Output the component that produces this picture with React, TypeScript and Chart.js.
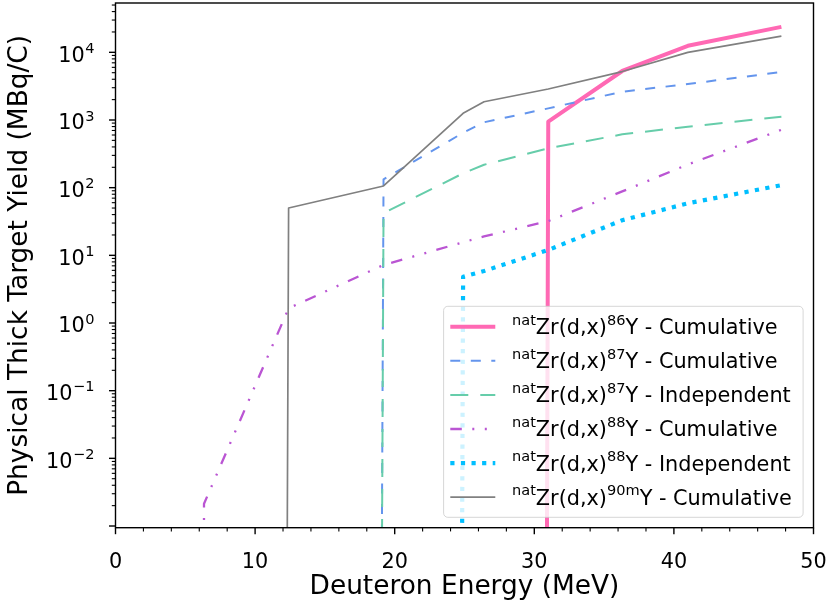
import React, { useEffect, useRef } from 'react';
import { Chart, registerables } from 'chart.js';

Chart.register(...registerables);

// ---------- data ----------
const energies = [5.0, 6.34, 12.4, 19.2, 24.9, 26.4, 31.0, 36.3, 41.0, 47.7];
const y86Cumulative = [0, 0, 0, 0, 0, 0, 944, 5300, 12500, 23800];
const y87Cumulative = [0, 0, 0, 133, 648, 925, 1486, 2618, 3404, 5120];
const y87Independent = [0, 0, 0, 42, 163, 218, 381, 614, 796, 1119];
const y88Cumulative = [0, 0.00213, 1.65, 7.2, 15.6, 19, 32, 88, 220, 716];
const y88Independent = [0, 0, 0, 0, 4.83, 5.86, 12, 33, 58.7, 109];
const y90mCumulative = [0, 0, 50, 106, 1256, 1862, 2870, 5200, 10000, 17400];

const seriesLabels = [
  '^{nat}Zr(d,x)^{86}Y - Cumulative',
  '^{nat}Zr(d,x)^{87}Y - Cumulative',
  '^{nat}Zr(d,x)^{87}Y - Independent',
  '^{nat}Zr(d,x)^{88}Y - Cumulative',
  '^{nat}Zr(d,x)^{88}Y - Independent',
  '^{nat}Zr(d,x)^{90m}Y - Cumulative',
];
const xTickLabels = [0, 10, 20, 30, 40, 50];
const yTickExponents = [-2, -1, 0, 1, 2, 3, 4];
const xTitle = 'Deuteron Energy (MeV)';
const yTitle = 'Physical Thick Target Yield (MBq/C)';

// ---------- styles ----------
const FONT = "'DejaVu Sans', sans-serif";
const TICK_FS = 20.8;
const LABEL_FS = 26.4;
const seriesStyles = [
  { color: '#ff69b4', width: 4, dash: [] as number[] },
  { color: '#6495ed', width: 2, dash: [10, 10.5] },
  { color: '#66cdaa', width: 2, dash: [18, 12] },
  { color: '#ba55d3', width: 2.3, dash: [11.5, 10.5, 2, 10.5, 2, 10.5] },
  { color: '#00bfff', width: 4.2, dash: [4.2, 6.4] },
  { color: '#808080', width: 1.7, dash: [] as number[] },
];
const seriesValues = [y86Cumulative, y87Cumulative, y87Independent, y88Cumulative, y88Independent, y90mCumulative];

function parseLabel(s: string) {
  const parts: { text: string; sup: boolean }[] = [];
  const re = /\^\{([^}]*)\}/g;
  let last = 0;
  let m: RegExpExecArray | null;
  while ((m = re.exec(s))) {
    if (m.index > last) parts.push({ text: s.slice(last, m.index), sup: false });
    parts.push({ text: m[1], sup: true });
    last = m.index + m[0].length;
  }
  if (last < s.length) parts.push({ text: s.slice(last), sup: false });
  return parts;
}

const overlayPlugin = {
  id: 'mplOverlay',
  afterDraw(chart: any) {
    const { ctx, chartArea: a, scales } = chart;
    const xs = scales.x;
    const ys = scales.y;
    ctx.save();
    ctx.strokeStyle = '#000';
    ctx.fillStyle = '#000';

    // x ticks
    xs.ticks.forEach((t: any) => {
      const px = xs.getPixelForValue(t.value);
      const major = xTickLabels.includes(t.value);
      ctx.lineWidth = major ? 1.4 : 1.1;
      ctx.beginPath();
      ctx.moveTo(px, a.bottom);
      ctx.lineTo(px, a.bottom + (major ? 6.5 : 3.7));
      ctx.stroke();
    });

    // y ticks (log decades)
    const d0 = Math.floor(Math.log10(ys.min));
    const d1 = Math.ceil(Math.log10(ys.max));
    for (let d = d0; d <= d1; d++) {
      for (let k = 1; k <= 9; k++) {
        const v = k * Math.pow(10, d);
        if (v < ys.min || v > ys.max) continue;
        const py = ys.getPixelForValue(v);
        const major = k === 1;
        ctx.lineWidth = major ? 1.4 : 1.1;
        ctx.beginPath();
        ctx.moveTo(a.left, py);
        ctx.lineTo(a.left - (major ? 6.5 : 3.7), py);
        ctx.stroke();
      }
    }

    // y tick labels 10^n
    const supFs = TICK_FS * 0.7;
    yTickExponents.forEach((e) => {
      const py = ys.getPixelForValue(Math.pow(10, e));
      const base = py + 9.3;
      const expTxt = e < 0 ? '\u2212' + Math.abs(e) : String(e);
      ctx.textBaseline = 'alphabetic';
      ctx.textAlign = 'right';
      ctx.font = `${supFs}px ${FONT}`;
      const right = a.left - 21;
      ctx.fillText(expTxt, right, base - 8.6);
      const ew = ctx.measureText(expTxt).width;
      ctx.font = `${TICK_FS}px ${FONT}`;
      ctx.fillText('10', right - ew - 0.5, base);
    });

    // frame
    ctx.lineWidth = 1.4;
    ctx.strokeRect(a.left, a.top, a.right - a.left, a.bottom - a.top);

    // legend (lower right)
    const pad = 10.4;
    const bw = 359.5;
    const bh = 211;
    const bx = a.right - pad - bw;
    const by = a.bottom - pad - bh;
    const r = 4.2;
    ctx.beginPath();
    ctx.moveTo(bx + r, by);
    ctx.lineTo(bx + bw - r, by);
    ctx.arcTo(bx + bw, by, bx + bw, by + r, r);
    ctx.lineTo(bx + bw, by + bh - r);
    ctx.arcTo(bx + bw, by + bh, bx + bw - r, by + bh, r);
    ctx.lineTo(bx + r, by + bh);
    ctx.arcTo(bx, by + bh, bx, by + bh - r, r);
    ctx.lineTo(bx, by + r);
    ctx.arcTo(bx, by, bx + r, by, r);
    ctx.closePath();
    ctx.fillStyle = 'rgba(255,255,255,0.8)';
    ctx.fill();
    ctx.strokeStyle = 'rgba(204,204,204,0.8)';
    ctx.lineWidth = 1;
    ctx.stroke();

    seriesLabels.forEach((lab, i) => {
      const st = seriesStyles[i];
      const cy = by + 20.4 + i * 34.1;
      ctx.save();
      ctx.strokeStyle = st.color;
      ctx.lineWidth = st.width;
      ctx.setLineDash(st.dash);
      ctx.lineCap = 'butt';
      ctx.beginPath();
      ctx.moveTo(bx + 6.7, cy);
      ctx.lineTo(bx + 51.7, cy);
      ctx.stroke();
      ctx.restore();

      let x = bx + 68.4;
      const baseY = cy + 7.4;
      ctx.fillStyle = '#000';
      ctx.textAlign = 'left';
      ctx.textBaseline = 'alphabetic';
      parseLabel(lab).forEach((p) => {
        if (p.sup) {
          ctx.font = `${supFs}px ${FONT}`;
          ctx.fillText(p.text, x, baseY - 9.4);
        } else {
          ctx.font = `${TICK_FS}px ${FONT}`;
          ctx.fillText(p.text, x, baseY);
        }
        x += ctx.measureText(p.text).width;
      });
    });

    ctx.restore();
  },
};

export default function App() {
  const ref = useRef<HTMLCanvasElement>(null);
  useEffect(() => {
    const canvas = ref.current;
    if (!canvas) return;
    const datasets = seriesValues.map((vals, i) => ({
      label: seriesLabels[i].replace(/\^\{([^}]*)\}/g, '$1'),
      // non-positive yields are clipped far below the log axis (like matplotlib)
      data: energies.map((e, j) => ({ x: e, y: vals[j] > 0 ? vals[j] : 1e-300 })),
      borderColor: seriesStyles[i].color,
      backgroundColor: seriesStyles[i].color,
      borderWidth: seriesStyles[i].width,
      borderDash: seriesStyles[i].dash,
      borderCapStyle: 'butt',
      borderJoinStyle: 'round',
      pointRadius: 0,
      pointHoverRadius: 0,
      tension: 0,
      fill: false,
      order: seriesValues.length - 1 - i,
    }));
    const chart = new Chart(canvas, {
      type: 'line',
      data: { datasets } as any,
      plugins: [overlayPlugin],
      options: {
        animation: false,
        responsive: false,
        devicePixelRatio: 1,
        events: [],
        layout: { padding: { top: 3, right: 15.5, bottom: 0, left: 0 } },
        plugins: { legend: { display: false }, tooltip: { enabled: false }, title: { display: false } },
        scales: {
          x: {
            type: 'linear',
            min: 0,
            max: 50,
            grid: { display: false },
            border: { display: false },
            ticks: {
              stepSize: 2,
              autoSkip: false,
              maxRotation: 0,
              minRotation: 0,
              padding: 14,
              color: '#000',
              font: { family: FONT, size: TICK_FS },
              callback: (v: any) => (xTickLabels.includes(Number(v)) ? String(v) : ''),
            },
            title: {
              display: true,
              text: xTitle,
              color: '#000',
              font: { family: FONT, size: LABEL_FS, weight: 'normal' },
              padding: { top: 0, bottom: 3 },
            },
            afterFit: (s: any) => {
              s.height = 606 - 527.7;
              s.paddingLeft = 0;
              s.paddingRight = 0;
            },
          },
          y: {
            type: 'logarithmic',
            min: Math.pow(10, -3.025),
            max: Math.pow(10, 4.729),
            grid: { display: false },
            border: { display: false },
            ticks: { display: false },
            title: {
              display: true,
              text: yTitle,
              color: '#000',
              font: { family: FONT, size: LABEL_FS, weight: 'normal' },
              padding: { top: 4, bottom: 0 },
            },
            afterFit: (s: any) => {
              s.width = 115.5;
              s.paddingTop = 0;
              s.paddingBottom = 0;
            },
          },
        },
      } as any,
    });
    return () => chart.destroy();
  }, []);
  return (
    <canvas
      ref={ref}
      width={829}
      height={606}
      style={{ position: 'fixed', left: 0, top: 0, width: 829, height: 606 }}
    />
  );
}
